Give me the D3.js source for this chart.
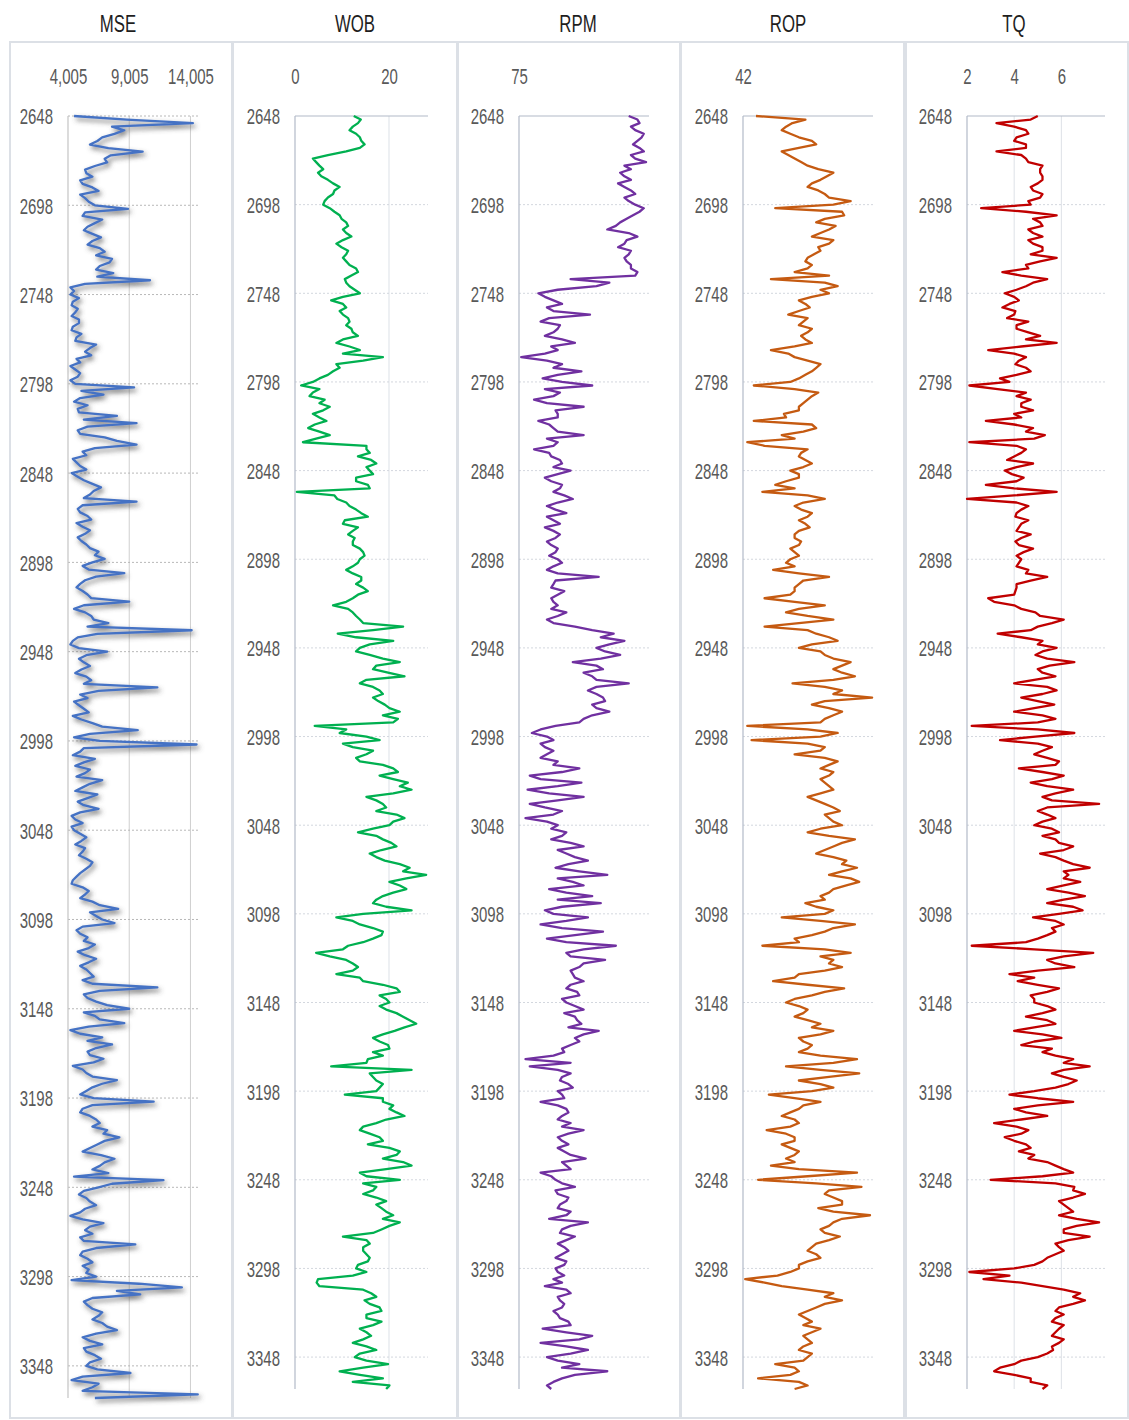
<!DOCTYPE html>
<html>
<head>
<meta charset="utf-8">
<script src="https://cdn.jsdelivr.net/npm/d3@7"></script>
<style>
  body { margin: 0; background: #fff; }
  svg text { font-family: "Liberation Sans", Arial, sans-serif; }
</style>
</head>
<body>
<svg id="chart" width="1129" height="1420"></svg>
<script>
// Sample depths (ft), one reading every 2 ft
const depths = [
  2648,2650,2652,2654,2656,2658,2660,2662,2664,2666,2668,2670,2672,2674,2676,2678,2680,2682,2684,2686,
  2688,2690,2692,2694,2696,2698,2700,2702,2704,2706,2708,2710,2712,2714,2716,2718,2720,2722,2724,2726,
  2728,2730,2732,2734,2736,2738,2740,2742,2744,2746,2748,2750,2752,2754,2756,2758,2760,2762,2764,2766,
  2768,2770,2772,2774,2776,2778,2780,2782,2784,2786,2788,2790,2792,2794,2796,2798,2800,2802,2804,2806,
  2808,2810,2812,2814,2816,2818,2820,2822,2824,2826,2828,2830,2832,2834,2836,2838,2840,2842,2844,2846,
  2848,2850,2852,2854,2856,2858,2860,2862,2864,2866,2868,2870,2872,2874,2876,2878,2880,2882,2884,2886,
  2888,2890,2892,2894,2896,2898,2900,2902,2904,2906,2908,2910,2912,2914,2916,2918,2920,2922,2924,2926,
  2928,2930,2932,2934,2936,2938,2940,2942,2944,2946,2948,2950,2952,2954,2956,2958,2960,2962,2964,2966,
  2968,2970,2972,2974,2976,2978,2980,2982,2984,2986,2988,2990,2992,2994,2996,2998,3000,3002,3004,3006,
  3008,3010,3012,3014,3016,3018,3020,3022,3024,3026,3028,3030,3032,3034,3036,3038,3040,3042,3044,3046,
  3048,3050,3052,3054,3056,3058,3060,3062,3064,3066,3068,3070,3072,3074,3076,3078,3080,3082,3084,3086,
  3088,3090,3092,3094,3096,3098,3100,3102,3104,3106,3108,3110,3112,3114,3116,3118,3120,3122,3124,3126,
  3128,3130,3132,3134,3136,3138,3140,3142,3144,3146,3148,3150,3152,3154,3156,3158,3160,3162,3164,3166,
  3168,3170,3172,3174,3176,3178,3180,3182,3184,3186,3188,3190,3192,3194,3196,3198,3200,3202,3204,3206,
  3208,3210,3212,3214,3216,3218,3220,3222,3224,3226,3228,3230,3232,3234,3236,3238,3240,3242,3244,3246,
  3248,3250,3252,3254,3256,3258,3260,3262,3264,3266,3268,3270,3272,3274,3276,3278,3280,3282,3284,3286,
  3288,3290,3292,3294,3296,3298,3300,3302,3304,3306,3308,3310,3312,3314,3316,3318,3320,3322,3324,3326,
  3328,3330,3332,3334,3336,3338,3340,3342,3344,3346,3348,3350,3352,3354,3356,3358,3360,3362,3364,3366
];

// Mechanical specific energy
const mse = [
  4500,8800,14200,7600,8600,7800,6800,6400,5800,7300,10100,7500,7000,7200,6200,5400,5500,6000,5000,5200,
  6000,6500,5000,5400,5700,6200,8900,5400,5200,6800,6200,5600,5300,6000,6700,6000,5600,6600,7000,6300,
  7600,7400,6600,6300,7700,6400,10700,5400,4200,4500,4200,4900,4400,4300,4800,4600,4300,4900,4900,4400,
  4300,5100,4700,4600,6300,5800,5400,5900,4700,5000,4200,4600,5000,4800,4200,4600,9400,5100,6900,5000,
  4500,5600,4800,4900,8000,5300,9600,5600,4800,5000,7000,8000,9600,6200,5200,5500,4400,4700,5000,5500,
  4300,4800,5300,6000,6700,6100,5800,5300,9600,5200,4800,5000,5600,5900,4700,5200,5800,5400,4800,5100,
  5500,5800,6500,6200,7000,6000,5200,5700,8600,6300,5400,5000,4700,5200,5600,5900,9000,5300,4500,5400,
  5900,6100,7300,5600,14100,6400,4800,4400,4200,4900,7200,5500,4900,5300,5800,5100,4600,5500,5900,5300,
  11300,6500,5000,5600,4500,4900,5300,5700,4400,5100,6000,6800,9700,5800,4500,6600,14500,5300,5000,4400,
  6200,5300,4600,5800,5400,4700,6800,5800,5200,4600,6400,5600,4800,5300,6500,5000,4300,4600,5200,4300,
  4500,5000,5500,5100,4600,5400,5200,4900,5500,6000,5800,5400,5000,4700,4400,4300,5200,5700,5400,5000,
  6000,6600,8100,5800,6300,6800,7800,5200,4700,5000,5600,5300,6200,5700,4800,5400,6300,5700,5000,5500,
  5800,6100,5200,6000,11300,6600,5300,5600,6300,7200,9000,5300,6200,6600,8600,5700,4200,5000,6800,5600,
  7600,6300,5600,5800,6900,6100,4400,5200,5500,6000,8000,6800,6000,5500,5000,6100,11000,6000,5200,5000,
  5800,6300,6600,6000,7200,6900,8200,7000,6400,5800,5200,6700,7800,7000,6600,6000,7300,4500,11800,7600,
  6500,5300,4900,5500,5800,6300,5400,5000,4200,5200,6900,5800,5400,6000,5000,5300,9500,6300,5200,5000,
  5600,6000,5200,5700,5500,6300,4300,9800,13300,8000,9900,6000,5300,5600,6000,6800,6500,6000,6800,7200,
  8000,6300,5200,5800,6800,5300,5500,6200,6700,5800,5500,6400,9100,5200,4300,6500,6000,5200,14600,6200
];

// Weight on bit
const wob = [
  12.5,14.0,13.4,12.3,11.6,13.0,13.8,14.1,14.8,13.8,10.9,7.0,3.8,4.5,5.2,6.0,4.9,5.6,7.0,8.1,
  9.5,8.4,8.1,7.0,6.3,6.0,7.4,8.4,9.5,9.9,10.9,11.3,10.2,10.9,12.0,10.2,8.8,9.9,11.3,10.9,
  10.2,10.9,11.6,13.0,13.4,12.0,10.6,10.9,11.6,12.7,13.8,10.2,7.7,10.2,10.9,9.5,10.2,11.3,11.6,10.9,
  12.0,12.3,13.4,10.2,8.8,11.6,13.8,10.2,18.7,14.5,8.8,9.5,8.1,7.0,5.2,3.8,1.3,5.2,3.8,3.1,
  6.3,5.2,7.4,6.0,3.8,5.2,6.7,4.2,2.8,5.2,7.4,4.5,1.7,15.2,15.2,15.9,13.4,16.2,17.3,15.2,
  15.9,16.6,13.0,13.0,15.5,15.9,0.4,8.4,9.0,10.9,11.6,13.0,14.1,15.5,10.6,10.2,13.4,12.3,11.3,12.7,
  12.3,12.3,13.8,14.5,14.8,13.8,13.4,12.3,10.9,12.3,14.1,14.1,13.0,14.5,15.5,13.4,12.3,10.9,8.1,11.3,
  12.3,13.0,13.8,14.5,23.0,16.6,9.1,13.0,20.9,15.9,13.8,13.0,15.9,18.7,22.3,17.3,16.6,19.8,23.3,15.2,
  13.8,16.6,18.0,18.7,16.6,17.7,19.1,20.1,22.3,18.7,21.9,20.9,4.2,10.9,9.5,15.2,18.0,10.2,12.3,16.6,
  15.2,13.0,13.8,18.7,20.9,21.9,18.0,20.9,24.0,22.3,24.8,20.9,15.2,17.3,18.7,19.4,17.3,21.6,23.3,20.9,
  20.1,16.6,13.4,17.3,18.7,20.5,21.6,18.4,15.9,17.3,19.1,22.3,24.4,23.0,27.9,23.7,20.1,22.3,23.7,20.9,
  18.7,17.3,16.6,19.4,24.8,14.5,8.8,12.3,13.8,16.6,18.7,18.4,16.6,14.5,11.3,10.2,4.5,7.4,10.9,12.3,
  13.4,12.3,8.8,13.8,14.5,18.7,21.6,22.3,18.0,19.4,20.1,18.0,19.4,21.6,23.0,24.4,25.8,23.3,21.2,18.7,
  16.6,18.0,19.8,20.1,16.6,18.7,15.5,15.2,7.7,24.8,15.9,16.6,17.3,18.7,18.0,17.3,10.6,18.7,18.7,20.9,
  20.1,21.6,23.3,19.4,17.3,14.5,13.8,15.9,18.0,18.7,15.5,20.1,22.3,21.6,18.7,23.0,24.8,19.4,13.8,15.2,
  22.3,14.5,17.3,16.6,14.5,17.3,19.4,17.3,18.4,19.4,20.9,18.7,22.3,20.1,18.4,16.6,10.2,15.2,15.9,14.5,
  14.5,15.2,15.9,15.5,13.4,13.0,15.2,12.3,4.9,4.6,5.2,14.5,16.2,17.3,14.8,15.9,18.0,18.4,15.2,15.2,
  18.4,16.6,13.8,15.2,16.2,14.5,12.3,15.2,17.3,13.8,12.7,15.2,19.8,14.5,9.5,13.8,18.7,12.3,20.1,19.4
];

// Rotary speed
const rpm = [
  159.4,166.1,167.7,161.1,164.4,171.0,169.4,166.1,162.7,167.7,171.0,161.1,164.4,172.7,156.1,161.1,152.8,156.1,161.1,151.2,
  156.1,161.1,164.4,156.1,159.4,164.4,171.0,167.7,162.7,157.8,152.8,149.5,142.9,159.4,166.1,157.8,156.1,151.2,161.1,159.4,
  156.1,157.8,161.1,161.1,166.1,164.4,114.7,144.5,134.6,104.8,89.9,94.9,101.5,108.1,96.5,101.5,129.6,98.2,91.6,106.5,
  104.8,101.5,94.9,108.1,118.0,99.8,104.8,94.9,76.7,96.5,108.1,101.5,123.0,104.8,93.2,108.1,131.3,94.9,106.5,101.5,
  86.6,96.5,124.7,103.1,104.8,104.8,89.9,98.2,101.5,104.8,124.7,96.5,104.8,101.5,86.6,98.2,99.8,106.5,108.1,101.5,
  114.7,104.8,94.9,99.8,108.1,106.5,101.5,109.8,116.4,104.8,96.5,103.1,111.4,96.5,101.5,106.5,94.9,101.5,106.5,103.1,
  96.5,99.8,104.8,103.1,98.2,104.8,108.1,101.5,96.5,104.8,136.3,103.1,101.5,99.8,109.8,104.8,99.8,101.5,104.8,99.8,
  111.4,104.8,96.5,101.5,118.0,131.3,147.8,137.9,156.1,144.5,134.6,141.2,152.8,137.9,116.4,134.6,139.6,124.7,131.3,134.6,
  159.4,134.6,128.0,134.6,139.6,141.2,131.3,134.6,144.5,131.3,124.7,121.4,103.1,91.6,84.9,96.5,101.5,91.6,94.9,101.5,
  96.5,91.6,104.8,101.5,121.4,108.1,83.3,91.6,123.0,104.8,81.6,98.2,124.7,104.8,83.3,94.9,108.1,101.5,80.0,96.5,
  104.8,99.8,111.4,108.1,99.8,114.7,124.7,104.8,111.4,118.0,128.0,113.0,103.1,121.4,142.9,104.8,116.4,124.7,98.2,111.4,
  131.3,104.8,137.9,108.1,94.9,101.5,128.0,111.4,91.6,108.1,139.6,118.0,96.5,111.4,149.5,124.7,111.4,114.7,141.2,124.7,
  121.4,114.7,116.4,118.0,124.7,114.7,111.4,119.7,121.4,108.1,111.4,118.0,124.7,109.8,118.0,119.7,123.0,113.0,136.3,124.7,
  118.0,121.4,114.7,108.1,109.8,101.5,80.0,114.7,83.3,104.8,114.7,108.1,106.5,113.0,116.4,104.8,108.1,109.8,91.6,104.8,
  111.4,113.0,108.1,104.8,114.7,108.1,124.7,113.0,104.8,108.1,113.0,104.8,109.8,114.7,126.3,108.1,111.4,114.7,91.6,99.8,
  103.1,108.1,118.0,103.1,104.8,113.0,111.4,106.5,104.8,114.7,111.4,98.2,128.0,114.7,108.1,106.5,118.0,111.4,104.8,109.8,
  113.0,108.1,103.1,111.4,109.8,103.1,104.8,109.8,101.5,108.1,94.9,111.4,114.7,104.8,106.5,109.8,108.1,101.5,104.8,106.5,
  113.0,114.7,93.2,111.4,131.3,121.4,91.6,111.4,128.0,114.7,96.5,104.8,121.4,108.1,142.9,118.0,108.1,101.5,96.5,99.8
];

// Rate of penetration
const rop = [
  52.0,90.0,80.0,75.1,71.8,78.4,85.0,95.0,98.3,85.0,71.8,76.8,81.7,86.7,91.7,99.9,111.5,106.6,101.6,95.0,
  91.7,99.9,104.9,108.2,124.8,111.5,66.8,118.2,119.8,104.9,98.3,113.2,108.2,101.6,95.0,111.5,108.2,99.9,101.6,96.6,
  91.7,90.0,95.0,91.7,81.7,108.2,63.5,104.9,114.8,101.6,108.2,95.0,85.0,90.0,93.3,85.0,76.8,91.7,88.4,85.0,
  95.0,91.7,86.7,90.0,95.0,81.7,63.5,76.8,81.7,91.7,101.6,98.3,95.0,90.0,85.0,78.4,50.3,81.7,99.9,95.0,
  91.7,88.4,85.0,85.0,73.5,75.1,50.3,95.0,98.3,88.4,71.8,81.7,45.3,58.6,91.7,86.7,85.0,90.0,95.0,88.4,
  78.4,85.0,85.0,75.1,66.8,81.7,56.9,91.7,104.9,88.4,81.7,86.7,95.0,91.7,85.0,90.0,93.3,85.0,81.7,81.7,
  86.7,85.0,78.4,81.7,85.0,78.4,75.1,81.7,65.2,85.0,108.2,88.4,85.0,81.7,81.7,78.4,58.6,81.7,104.9,85.0,
  75.1,91.7,111.5,85.0,58.6,91.7,98.3,108.2,114.8,95.0,85.0,101.6,104.9,111.5,124.8,118.2,111.5,118.2,128.1,111.5,
  80.1,104.9,118.2,111.5,141.3,104.9,95.0,108.2,118.2,111.5,104.9,101.6,45.3,91.7,114.8,101.6,48.6,91.7,104.9,101.6,
  81.7,104.9,114.8,108.2,101.6,111.5,108.2,101.6,104.9,108.2,111.5,101.6,91.7,98.3,104.9,111.5,116.5,104.9,108.2,111.5,
  118.2,101.6,91.7,108.2,128.1,118.2,111.5,104.9,98.3,111.5,121.5,118.2,129.7,118.2,108.2,124.8,131.4,121.5,111.5,108.2,
  101.6,104.9,90.0,98.3,111.5,104.9,71.8,101.6,128.1,111.5,104.9,95.0,81.7,85.0,56.9,104.9,124.8,101.6,111.5,108.2,
  118.2,104.9,85.0,81.7,65.2,91.7,119.8,104.9,95.0,81.7,75.1,85.0,91.7,88.4,81.7,91.7,101.6,95.0,111.5,101.6,
  85.0,88.4,95.0,91.7,85.0,101.6,129.7,111.5,75.1,101.6,131.4,108.2,85.0,101.6,111.5,95.0,61.9,81.7,101.6,88.4,
  85.0,78.4,71.8,81.7,85.0,78.4,60.2,75.1,81.7,81.7,71.8,78.4,85.0,81.7,75.1,81.7,63.5,85.0,129.7,91.7,
  53.6,98.3,133.1,108.2,104.9,111.5,118.2,118.2,99.9,111.5,139.7,118.2,111.5,108.2,101.6,104.9,116.5,108.2,98.3,95.0,
  91.7,98.3,101.6,91.7,85.0,85.0,78.4,68.5,43.7,58.6,71.8,91.7,111.5,104.9,118.2,104.9,98.3,91.7,85.0,90.0,
  95.0,88.4,101.6,95.0,88.4,91.7,95.0,88.4,85.0,95.0,91.7,88.4,66.8,81.7,85.0,78.4,53.6,85.0,91.7,81.7
];

// Torque
const tq = [
  5.0,4.7,3.25,4.0,4.5,4.6,4.1,4.0,4.5,4.5,3.25,4.3,4.5,4.6,5.2,5.1,5.1,5.2,5.2,5.0,
  4.7,4.8,5.2,5.1,4.6,4.7,2.6,4.5,5.8,4.8,5.1,5.2,4.6,4.8,5.2,4.6,4.8,5.2,5.2,4.7,
  5.8,5.1,4.5,4.6,3.5,4.3,5.4,4.8,4.5,4.1,3.6,4.0,4.2,3.8,3.5,4.05,4.0,3.7,4.6,4.1,
  4.1,4.6,5.1,4.5,5.8,4.3,2.9,4.0,4.5,4.2,4.05,4.5,4.7,4.1,3.4,3.8,2.1,3.3,4.5,4.1,
  4.7,4.3,4.3,4.8,4.0,4.3,2.8,4.0,4.8,4.5,5.3,4.85,2.1,4.1,4.5,4.3,4.0,3.7,4.8,4.1,
  3.6,3.9,4.4,4.1,2.8,4.0,5.8,4.0,2.0,4.1,4.6,4.3,4.1,4.05,4.6,4.3,4.2,4.1,4.7,4.3,
  4.05,4.2,4.8,4.4,4.1,4.3,4.2,4.1,4.6,4.5,5.4,4.7,4.1,4.1,4.05,4.0,2.9,3.15,4.0,4.3,
  4.9,5.1,6.1,5.6,5.0,4.7,3.3,4.3,5.2,5.0,5.8,5.2,4.9,5.4,6.55,5.5,5.0,5.2,5.75,4.85,
  4.0,5.4,5.8,5.2,4.3,5.0,5.7,4.85,4.0,5.2,5.75,5.0,2.2,5.0,6.55,4.9,3.4,5.0,5.6,5.2,
  4.85,5.4,5.9,5.75,4.2,5.2,6.1,5.6,4.7,5.4,6.5,5.75,5.2,5.6,7.6,5.4,5.0,5.4,5.75,5.2,
  4.85,5.6,5.9,5.2,5.75,5.9,6.5,6.1,5.1,5.75,6.1,6.5,7.2,6.1,6.3,6.1,6.8,6.1,5.4,6.3,
  7.0,6.1,5.4,6.5,6.9,5.9,4.8,5.75,6.1,5.6,5.75,5.4,5.0,4.5,2.2,4.85,7.35,6.1,5.4,5.75,
  6.55,5.0,3.8,4.85,4.15,5.0,5.9,5.4,4.7,4.85,4.85,5.4,5.75,5.2,4.5,5.4,5.75,4.85,4.0,5.2,
  6.0,4.85,4.3,5.6,5.2,5.75,6.5,6.1,7.2,6.1,5.6,6.1,6.65,6.3,5.75,4.85,3.8,5.0,6.5,5.0,
  4.0,4.5,5.4,4.3,3.15,4.1,4.6,4.3,3.6,4.0,4.5,4.7,4.2,4.85,4.6,5.4,5.75,6.1,6.5,5.2,
  3.0,5.75,6.55,6.5,7.0,6.5,5.9,6.1,6.3,6.5,5.9,6.65,7.6,6.65,6.1,6.1,7.2,6.3,5.75,5.9,
  6.1,5.75,5.4,5.2,4.85,4.0,2.1,3.8,2.7,4.3,5.2,6.1,6.8,6.5,7.0,6.5,5.9,5.75,6.1,5.75,
  5.6,6.1,5.9,5.75,5.6,6.1,5.9,5.6,5.65,5.4,5.0,4.3,4.0,3.4,3.15,4.0,4.7,4.7,5.4,5.2
];

// Depth labels on every track
const depthTicks = [2648,2698,2748,2798,2848,2898,2948,2998,3048,3098,3148,3198,3248,3298,3348];
const depthRange = [2648, 3366];

// Track layout and styling
const tracks = [
  { title: "MSE", titleX: 118, box: [10, 232], x: [68, 198], y: [116, 1398],
    domain: [4005, 14620], ticks: [4005, 9005, 14005], fmt: d3.format(","),
    values: mse, color: "#4472C4", shadow: true, vgrid: [9005, 14005],
    hgridColor: "#b8b8b8", axisColor: "#c4c4c4", topSolid: false, vgridColor: "#cfcfcf" },
  { title: "WOB", titleX: 355, box: [233, 457], x: [295, 428], y: [116, 1389],
    domain: [0, 28.3], ticks: [0, 20], fmt: d3.format("d"),
    values: wob, color: "#00B050", vgrid: [20],
    hgridColor: "#d3d7de", axisColor: "#b2bac8", topSolid: true, vgridColor: "#dde1e7" },
  { title: "RPM", titleX: 578, box: [458, 680], x: [519, 649], y: [116, 1389],
    domain: [75, 175], ticks: [75], fmt: d3.format("d"),
    values: rpm, color: "#7030A0", vgrid: [],
    hgridColor: "#d3d7de", axisColor: "#b2bac8", topSolid: true, vgridColor: "#dde1e7" },
  { title: "ROP", titleX: 788, box: [681, 904], x: [743, 873], y: [116, 1389],
    domain: [42, 142], ticks: [42], fmt: d3.format("d"),
    values: rop, color: "#C55A11", vgrid: [],
    hgridColor: "#d3d7de", axisColor: "#b2bac8", topSolid: true, vgridColor: "#dde1e7" },
  { title: "TQ", titleX: 1014, box: [906, 1128], x: [967, 1105], y: [116, 1389],
    domain: [2, 7.85], ticks: [2, 4, 6], fmt: d3.format("d"),
    values: tq, color: "#C00000", vgrid: [4, 6],
    hgridColor: "#d3d7de", axisColor: "#b2bac8", topSolid: true, vgridColor: "#dde1e7" }
];

// condensed lettering: a regular face squeezed horizontally
const labelSize = 22, labelSqueeze = 0.68;
const titleSize = 24, titleSqueeze = 0.7;
const labelColor = "#595959";

const svg = d3.select("#chart");
svg.append("rect").attr("width", 1129).attr("height", 1420).attr("fill", "#fff");

const defs = svg.append("defs");
const shadow = defs.append("filter").attr("id", "traceShadow")
  .attr("x", "-20%").attr("y", "-5%").attr("width", "140%").attr("height", "110%");
shadow.append("feDropShadow").attr("dx", 2).attr("dy", 3).attr("stdDeviation", 2.5)
  .attr("flood-color", "#4a4a4a").attr("flood-opacity", 0.8);

tracks.forEach(t => {
  const g = svg.append("g");
  const x = d3.scaleLinear().domain(t.domain).range(t.x);
  const y = d3.scaleLinear().domain(depthRange).range(t.y);

  // panel frame
  g.append("rect")
    .attr("x", t.box[0]).attr("y", 42)
    .attr("width", t.box[1] - t.box[0]).attr("height", 1376)
    .attr("fill", "none").attr("stroke", "#dce0e6").attr("stroke-width", 2);

  // title
  g.append("text")
    .attr("transform", `translate(${t.titleX},32) scale(${titleSqueeze},1)`)
    .attr("text-anchor", "middle")
    .attr("font-size", titleSize)
    .attr("fill", "#1e1e1e")
    .text(t.title);

  // vertical gridlines
  g.selectAll(".vgrid").data(t.vgrid).join("line")
    .attr("x1", d => x(d)).attr("x2", d => x(d))
    .attr("y1", t.y[0]).attr("y2", t.y[1])
    .attr("stroke", t.vgridColor).attr("stroke-width", 1);

  // horizontal gridlines at each labelled depth
  g.selectAll(".hgrid").data(depthTicks).join("line")
    .attr("x1", t.x[0]).attr("x2", t.x[1])
    .attr("y1", d => y(d)).attr("y2", d => y(d))
    .attr("stroke", (d, i) => (i === 0 && t.topSolid) ? t.axisColor : t.hgridColor)
    .attr("stroke-width", (d, i) => (i === 0 && t.topSolid) ? 1.2 : 1)
    .attr("stroke-dasharray", (d, i) => (i === 0 && t.topSolid) ? null : "2,2");

  // left axis line
  g.append("line")
    .attr("x1", t.x[0]).attr("x2", t.x[0])
    .attr("y1", t.y[0]).attr("y2", t.y[1])
    .attr("stroke", t.axisColor).attr("stroke-width", 1.2);

  // value axis labels across the top
  const xAxis = d3.axisTop(x).tickValues(t.ticks).tickFormat(t.fmt).tickSize(0).tickPadding(0);
  const xg = g.append("g").attr("transform", "translate(0,84)").call(xAxis);
  xg.select(".domain").remove();
  xg.selectAll("text")
    .attr("font-size", labelSize).attr("fill", labelColor)
    .attr("font-family", null)
    .attr("y", 0).attr("dy", 0)
    .attr("transform", `scale(${labelSqueeze},1)`);

  // depth axis labels
  const pad = 15;
  const yAxis = d3.axisLeft(y).tickValues(depthTicks).tickFormat(d3.format("d")).tickSize(0);
  const yg = g.append("g").attr("transform", `translate(${t.x[0]},0)`).call(yAxis);
  yg.select(".domain").remove();
  yg.selectAll("text")
    .attr("font-size", labelSize).attr("fill", labelColor)
    .attr("font-family", null)
    .attr("x", -pad / labelSqueeze)
    .attr("dy", "0.36em")
    .attr("transform", `scale(${labelSqueeze},1)`);

  // the log trace
  const n = Math.min(depths.length, t.values.length);
  const idx = d3.range(n);
  const line = d3.line()
    .x(i => x(t.values[i]))
    .y(i => y(depths[i]));
  g.append("path")
    .datum(idx)
    .attr("d", line)
    .attr("fill", "none")
    .attr("stroke", t.color)
    .attr("stroke-width", 2.3)
    .attr("stroke-linejoin", "round")
    .attr("filter", t.shadow ? "url(#traceShadow)" : null);
});
</script>
</body>
</html>
